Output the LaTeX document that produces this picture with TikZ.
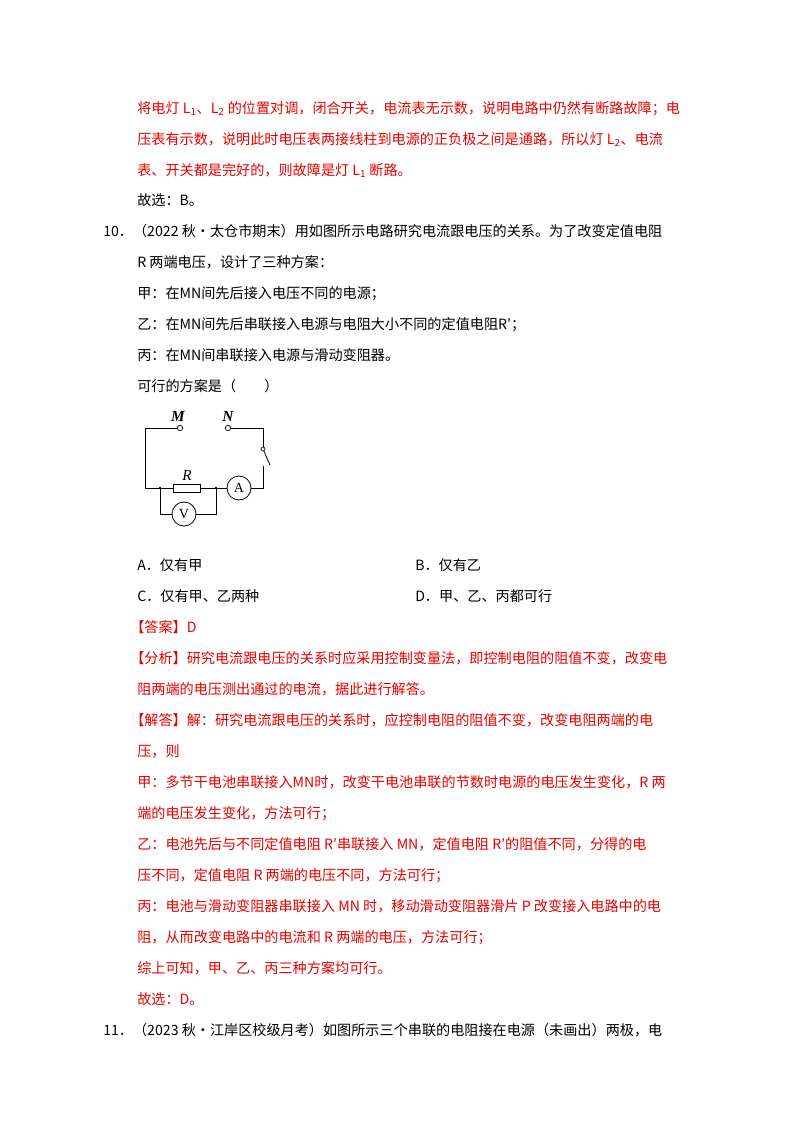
\documentclass[tikz,border=0pt]{standalone}
\usepackage{fontspec}
\setmainfont{Noto Sans CJK SC}
\newfontfamily\serifl{Liberation Serif}
\definecolor{ansred}{RGB}{230,0,0}
\begin{document}
\begin{tikzpicture}[x=0.75pt,y=-0.75pt,
  txt/.style={anchor=base west,inner sep=0pt,font=\fontsize{10.6pt}{12pt}\selectfont},
  red/.style={txt,text=ansred},
  wire/.style={line width=0.6pt},
  term/.style={circle,draw,fill=white,inner sep=0pt,minimum size=4pt,line width=0.5pt},
  lab/.style={anchor=base,inner sep=0pt,font=\serifl\itshape\fontsize{11.5pt}{11pt}\selectfont},
  meter/.style={circle,draw,fill=white,minimum size=18pt,inner sep=0pt,line width=0.6pt,font=\serifl\fontsize{10.5pt}{10pt}\selectfont}]
\useasboundingbox (0,0) rectangle (800,1132);
\node[red] (l1) at (137,113) {将电灯 L\textsubscript{1}、L\textsubscript{2} 的位置对调，闭合开关，电流表无示数，说明电路中仍然有断路故障；电};
\node[red] (l2) at (137,144) {压表有示数，说明此时电压表两接线柱到电源的正负极之间是通路，所以灯 L\textsubscript{2}、电流};
\node[red] (l3) at (137,175) {表、开关都是完好的，则故障是灯 L\textsubscript{1} 断路。};
\node[txt] (l4) at (137,205) {故选：B。};
\node[txt] (l5) at (103,236) {10．（2022 秋•太仓市期末）用如图所示电路研究电流跟电压的关系。为了改变定值电阻};
\node[txt] (l6) at (137,267) {R 两端电压，设计了三种方案：};
\node[txt] (l7) at (137,298) {甲：在MN间先后接入电压不同的电源；};
\node[txt] (l8) at (137,329) {乙：在MN间先后串联接入电源与电阻大小不同的定值电阻R′；};
\node[txt] (l9) at (137,360) {丙：在MN间串联接入电源与滑动变阻器。};
\node[txt] (l10) at (137,391) {可行的方案是（　　）};
% circuit
\coordinate (tl) at (145,428);
\coordinate (tr) at (263,428);
\coordinate (bl) at (145,488);
\coordinate (br) at (263,488);
\node[term] (M) at (180,428) {};
\node[term] (N) at (228,428) {};
\node[lab] (Ml) at (178,421) {\bfseries M};
\node[lab] (Nl) at (228,421) {\bfseries N};
\node[draw,line width=0.6pt,minimum width=20pt,minimum height=6pt,inner sep=0pt,fill=white] (R) at (187,488) {};
\node[lab] (Rl) at (187,480) {R};
\node[meter] (A) at (239,488) {A};
\node[meter] (V) at (184,514) {V};
\coordinate (j1) at (160,488);
\coordinate (j2) at (216,488);
\coordinate (s1) at (263,449);
\coordinate (s2) at (270,465);
\coordinate (s3) at (263,466);
\draw[wire] (M) -- (tl) -- (bl) -- (R) -- (A) -- (br) -- (s3);
\draw[wire] (N) -- (tr) -- (s1);
\draw[wire] (s1) -- (s2);
\node[term,minimum size=3pt] (sp) at (s1) {};
\draw[wire] (j1) -- (160,514) -- (V) -- (216,514) -- (j2);
\fill (j1) circle (1.5);
\fill (j2) circle (1.5);
% options
\node[txt] (oa) at (137,570) {A．仅有甲};
\node[txt] (ob) at (415,570) {B．仅有乙};
\node[txt] (oc) at (137,601) {C．仅有甲、乙两种};
\node[txt] (od) at (415,601) {D．甲、乙、丙都可行};
\node[red] (a1) at (130,632) {【答案】D};
\node[red] (a2) at (130,663) {【分析】研究电流跟电压的关系时应采用控制变量法，即控制电阻的阻值不变，改变电};
\node[red] (a3) at (137,694) {阻两端的电压测出通过的电流，据此进行解答。};
\node[red] (a4) at (130,725) {【解答】解：研究电流跟电压的关系时，应控制电阻的阻值不变，改变电阻两端的电};
\node[red] (a5) at (137,756) {压，则};
\node[red] (a6) at (137,787) {甲：多节干电池串联接入MN时，改变干电池串联的节数时电源的电压发生变化，R 两};
\node[red] (a7) at (137,818) {端的电压发生变化，方法可行；};
\node[red] (a8) at (137,849) {乙：电池先后与不同定值电阻 R′串联接入 MN，定值电阻 R′的阻值不同，分得的电};
\node[red] (a9) at (137,880) {压不同，定值电阻 R 两端的电压不同，方法可行；};
\node[red] (a10) at (137,911) {丙：电池与滑动变阻器串联接入 MN 时，移动滑动变阻器滑片 P 改变接入电路中的电};
\node[red] (a11) at (137,942) {阻，从而改变电路中的电流和 R 两端的电压，方法可行；};
\node[red] (a12) at (137,973) {综上可知，甲、乙、丙三种方案均可行。};
\node[red] (a13) at (137,1004) {故选：D。};
\node[txt] (q11) at (103,1035) {11．（2023 秋•江岸区校级月考）如图所示三个串联的电阻接在电源（未画出）两极，电};
\end{tikzpicture}
\end{document}
